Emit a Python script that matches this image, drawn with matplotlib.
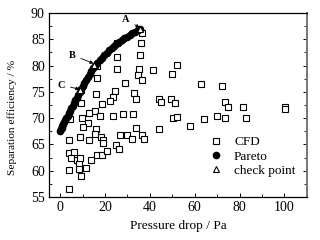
import matplotlib
matplotlib.use('Agg')
import matplotlib.pyplot as plt
from matplotlib.ticker import MultipleLocator

plt.rcParams['font.family'] = ['Liberation Serif', 'DejaVu Serif']

# CFD samples (pressure drop / Pa, separation efficiency / %)
cfd_x = [36.4, 35.9, 35.4, 35.1, 34.5, 36.3, 32.8, 34.0, 32.4,
         25.4, 25.2, 25.3, 28.9, 24.3, 23.4, 22.4, 18.7, 16.6, 16.3, 16.0,
         9.3, 9.4, 15.6, 17.8, 12.9, 9.6, 4.5, 23.7, 28.2, 12.3,
         33.6, 16.1, 10.4, 4.0, 8.9, 12.7, 15.4, 18.1, 19.0, 19.3,
         26.8, 29.6, 32.0, 36.7, 37.3, 44.1, 25.0, 26.4,
         4.1, 4.7, 6.2, 7.3, 8.3, 8.9, 8.6, 11.3, 9.5, 4.0, 4.0,
         13.6, 16.3, 18.6, 21.0,
         41.2, 51.9, 49.9, 62.8, 72.0, 44.2, 44.9, 49.2, 51.0,
         73.6, 75.0, 81.3, 100.1, 100.2, 50.3, 52.3, 64.3, 70.1, 73.3, 83.0, 58.1]
cfd_y = [86.1, 84.3, 82.0, 79.4, 78.2, 77.2, 74.8, 73.6, 70.8,
         84.2, 81.6, 79.4, 76.6, 75.1, 74.1, 73.2, 72.6, 80.0, 77.6, 74.6,
         75.3, 72.8, 71.4, 70.5, 71.0, 70.0, 69.9, 70.4, 70.8, 69.1,
         68.1, 68.0, 68.4, 65.9, 66.5, 65.9, 67.0, 66.5, 65.9, 65.3,
         66.8, 66.8, 66.0, 66.8, 66.1, 67.9, 64.9, 64.2,
         63.4, 62.5, 63.6, 62.0, 61.2, 62.5, 60.4, 60.5, 59.0, 60.1, 56.6,
         62.0, 62.9, 63.0, 63.7,
         79.2, 80.2, 78.4, 76.4, 76.1, 73.6, 73.0, 73.6, 72.9,
         73.1, 72.1, 72.1, 72.1, 71.7, 70.0, 70.2, 69.8, 70.5, 70.0, 70.0, 68.6]

# Pareto front
pareto_x = [0, 0.3, 0.6, 1, 1.4, 1.8, 2.3, 2.8, 3.3, 3.8, 4.4, 5, 5.6, 6.2, 6.8,
            7.4, 8, 8.7, 9.4, 10.1, 10.8, 11.5, 12.3, 13.1, 13.9, 14.8, 15.7,
            16.6, 17.6, 18.6, 19.6, 20.7, 21.8, 22.9, 24, 25.1, 26.2, 27.4,
            28.6, 29.8, 31, 32.2, 33.4, 34.6, 35.8]
pareto_y = [67.6, 67.9, 68.2, 68.5, 68.9, 69.2, 69.7, 70.1, 70.5, 70.9, 71.4,
            71.9, 72.4, 72.9, 73.4, 73.9, 74.4, 75.0, 75.6, 76.1, 76.7, 77.2,
            77.8, 78.4, 78.9, 79.5, 80.0, 80.5, 81.0, 81.5, 82.0, 82.4, 82.9,
            83.3, 83.7, 84.1, 84.5, 84.8, 85.2, 85.5, 85.8, 86.1, 86.4, 86.7, 87.0]

# check points
check_labels = ['A', 'B', 'C']
check_x = [35.8, 15.3, 9.0]
check_y = [87.0, 80.2, 75.3]

fig = plt.figure(figsize=(3.2, 2.4), dpi=100)
ax = fig.add_axes([0.153, 0.179, 0.806, 0.767])

ax.plot(cfd_x, cfd_y, 's', mfc='white', mec='black', ms=4.5, mew=0.8,
        ls='none', label='CFD')
ax.plot(pareto_x, pareto_y, 'o', color='black', ms=4.5, ls='none',
        label='Pareto')
ax.plot(check_x, check_y, '^', mfc='white', mec='black', ms=4, mew=0.8,
        ls='none', label='check point')

offsets = [(-6.5, 1.8), (-10.0, 1.8), (-8.5, 1.0)]
for lab, cx, cy, (dx, dy) in zip(check_labels, check_x, check_y, offsets):
    ax.annotate(lab, xy=(cx - 0.4, cy + 0.2), xytext=(cx + dx, cy + dy),
                fontsize=7.5, fontweight='bold', ha='center', va='center',
                arrowprops=dict(arrowstyle='-|>', color='black', lw=0.6,
                                mutation_scale=5, shrinkA=2, shrinkB=0))

ax.set_xlim(-5, 110)
ax.set_ylim(55, 90)
ax.xaxis.set_major_locator(MultipleLocator(20))
ax.xaxis.set_minor_locator(MultipleLocator(10))
ax.yaxis.set_major_locator(MultipleLocator(5))
ax.yaxis.set_minor_locator(MultipleLocator(2.5))
ax.tick_params(which='both', direction='in', right=True, top=False,
               labelsize=10, pad=3)
ax.tick_params(which='major', length=3, width=0.7)
ax.tick_params(which='minor', length=2, width=0.6)
for s in ax.spines.values():
    s.set_linewidth(0.9)
ax.spines['right'].set_color('#777777')
ax.spines['right'].set_linewidth(1.4)

ax.set_xlabel('Pressure drop / Pa', fontsize=9.6, labelpad=4)
ax.set_ylabel('Separation efficiency / %', fontsize=8.2)
ax.yaxis.set_label_coords(-0.125, 0.43)

ax.legend(loc='upper left', bbox_to_anchor=(0.60, 0.36), frameon=False,
          fontsize=9.5, handlelength=1.0, handletextpad=0.9,
          labelspacing=0.15, borderaxespad=0)

fig.savefig('out.png', dpi=100)
